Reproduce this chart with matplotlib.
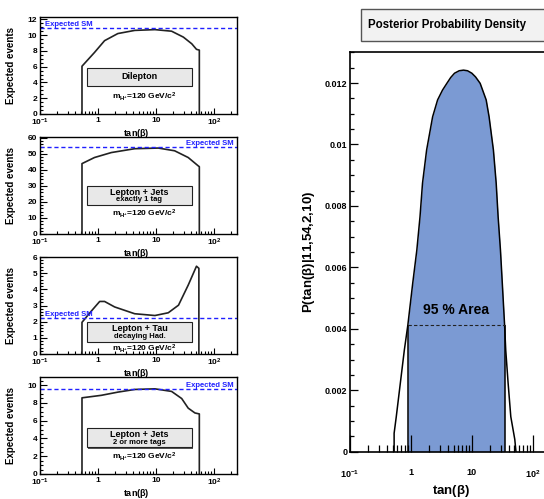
import matplotlib
matplotlib.use('Agg')
import matplotlib.pyplot as plt
from matplotlib.patches import Rectangle
from matplotlib.ticker import MultipleLocator, NullFormatter

plt.rcParams['font.family'] = ['Liberation Sans', 'DejaVu Sans']
plt.rcParams['font.weight'] = 'bold'
plt.rcParams['mathtext.fontset'] = 'custom'
plt.rcParams['mathtext.rm'] = 'Liberation Sans'
plt.rcParams['mathtext.bf'] = 'Liberation Sans:bold'
plt.rcParams['mathtext.default'] = 'bf'

# expected events vs tan(beta), one list pair per channel
dil_x = [0.53, 0.53, 0.87, 1.3, 2.2, 4.3, 9.6, 18.6, 29.7, 41.5, 50, 56, 56]
dil_y = [0, 6.06, 7.8, 9.3, 10.2, 10.6, 10.7, 10.5, 9.75, 8.9, 8.2, 8.1, 0]
lj1_x = [0.53, 0.53, 0.87, 1.7, 4.3, 11, 21, 36, 54, 56, 56]
lj1_y = [0, 43.9, 47.7, 50.8, 53.2, 53.6, 51.9, 47.7, 42.4, 42.0, 0]
tau_x = [0.53, 0.53, 0.77, 1.07, 1.3, 1.94, 4.3, 9.6, 16.3, 24.5, 36, 50, 55, 55]
tau_y = [0, 1.96, 2.66, 3.25, 3.25, 2.91, 2.49, 2.38, 2.55, 3.02, 4.26, 5.43, 5.3, 0]
lj2_x = [0.53, 0.53, 1.14, 2.2, 4.3, 9.6, 18.6, 27.8, 36, 47, 56, 56]
lj2_y = [0, 8.56, 8.84, 9.2, 9.5, 9.57, 9.28, 8.48, 7.4, 6.86, 6.75, 0]

sm_levels = [10.85, 54.4, 2.23, 9.57]
ymaxes = [12.3, 60.5, 6.0, 10.9]
ymajor = [2, 10, 1, 2]
yminor = [0.5, 2, 0.2, 0.5]
titles = [['Dilepton'], ['Lepton + Jets', 'exactly 1 tag'],
          ['Lepton + Tau', 'decaying Had.'], ['Lepton + Jets', '2 or more tags']]

# posterior density
post_x = [0.53, 0.53, 0.575, 0.67, 0.78, 0.89, 1.07, 1.25, 1.41, 1.55, 1.81, 2.27,
          2.74, 3.3, 3.89, 4.5, 5.2, 6.2, 7.3, 8.5, 10.0, 11.5, 13.7, 17.2, 19.2,
          22.6, 25.1, 27.0, 29.5, 32.0, 34.5, 36.0, 39.4, 43.6, 50.7, 53.0]
post_p = [0, 0.0006, 0.00114, 0.00223, 0.00331, 0.00412, 0.00548, 0.00656, 0.00765,
          0.00874, 0.00982, 0.0109, 0.01145, 0.01177, 0.01199, 0.01218, 0.01232,
          0.01240, 0.01242, 0.01240, 0.01232, 0.01220, 0.01199, 0.01145, 0.0109,
          0.00982, 0.00874, 0.00765, 0.00656, 0.0053, 0.00412, 0.00331, 0.00223,
          0.00114, 0.0004, 0.0]
hpd_lo, hpd_hi, hpd_level = 0.89, 34.5, 0.00412

xt = [0.1, 1, 10, 100]
xtl = [r'$10^{-1}$', '1', '10', r'$10^{2}$']
tb = r'tan($\mathrm{\beta}$)'

fig = plt.figure(figsize=(5.44, 4.99), dpi=100)
W, H = 544., 499.

series = [(dil_x, dil_y), (lj1_x, lj1_y), (tau_x, tau_y), (lj2_x, lj2_y)]
box_y = [(0.29, 0.474, 0.175), (0.30, 0.495, 0.206), (0.128, 0.33, 0.05), (0.275, 0.47, 0.18)]
for i, (xs, ys) in enumerate(series):
    top = 17 + 120 * i
    bot = 114 + 120 * i
    ax = fig.add_axes([40 / W, 1 - bot / H, 197 / W, (bot - top) / H])
    ax.plot(xs, ys, color='#222222', lw=1.2)
    ax.axhline(sm_levels[i], color='#2020ff', ls=(0, (3, 2)), lw=1)
    ax.set_xscale('log')
    ax.set_xlim(0.1, 250)
    ax.set_ylim(0, ymaxes[i])
    ax.set_xticks(xt)
    ax.set_xticklabels(xtl)
    ax.xaxis.set_minor_formatter(NullFormatter())
    ax.yaxis.set_major_locator(MultipleLocator(ymajor[i]))
    ax.yaxis.set_minor_locator(MultipleLocator(yminor[i]))
    ax.tick_params(which='both', direction='in', labelsize=6, pad=2, width=0.8)
    ax.tick_params(axis='y', which='major', length=5)
    ax.tick_params(axis='y', which='minor', length=2.5)
    ax.tick_params(axis='x', which='major', length=4)
    ax.tick_params(axis='x', which='minor', length=2)
    for s in ax.spines.values():
        s.set_linewidth(1)
    ax.set_ylabel('Expected events', fontsize=7, fontweight='bold')
    ax.yaxis.set_label_coords(-0.12, 0.5)
    ax.set_xlabel(tb, fontsize=6.5, fontweight='bold')
    ax.xaxis.set_label_coords(0.49, -0.135)
    if i in (0, 2):
        ax.annotate('Expected SM', xy=(0.025, sm_levels[i]), xycoords=('axes fraction', 'data'),
                    ha='left', va='bottom', color='#2020ff', fontsize=5.5, fontweight='bold')
    else:
        ax.annotate('Expected SM', xy=(0.985, sm_levels[i]), xycoords=('axes fraction', 'data'),
                    ha='right', va='bottom', color='#2020ff', fontsize=5.5, fontweight='bold')
    b0, b1, mh = box_y[i]
    ax.add_patch(Rectangle((0.245, b0 - 0.015), 0.53, b1 - b0, transform=ax.transAxes,
                           facecolor='#555555', edgecolor='none', zorder=3))
    ax.add_patch(Rectangle((0.24, b0), 0.53, b1 - b0, transform=ax.transAxes,
                           facecolor='#e8e8e8', edgecolor='#222222', lw=0.8, zorder=4))
    if len(titles[i]) == 1:
        ax.text(0.505, (b0 + b1) / 2, titles[i][0], transform=ax.transAxes, ha='center',
                va='center', fontsize=6.5, fontweight='bold', zorder=5)
    else:
        ax.text(0.505, b0 + 0.68 * (b1 - b0), titles[i][0], transform=ax.transAxes,
                ha='center', va='center', fontsize=6.5, fontweight='bold', zorder=5)
        ax.text(0.505, b0 + 0.27 * (b1 - b0), titles[i][1], transform=ax.transAxes,
                ha='center', va='center', fontsize=5.5, fontweight='bold', zorder=5)
    ax.text(0.53, mh, r'm$_{H^{+}}$=120 GeV/c$^{2}$', transform=ax.transAxes,
            ha='center', va='center', fontsize=6, fontweight='bold', zorder=5)

# right panel: posterior
axr = fig.add_axes([350 / W, 1 - 451.7 / H, 207 / W, 400 / H])
fx = [x for x in post_x if hpd_lo <= x <= hpd_hi]
fp = [p for x, p in zip(post_x, post_p) if hpd_lo <= x <= hpd_hi]
axr.fill_between(fx, 0, fp, color='#7b9ad3', lw=0)
axr.plot(post_x, post_p, color='black', lw=1.1)
axr.vlines([hpd_lo, hpd_hi], 0, hpd_level, color='black', lw=1.1)
axr.hlines(hpd_level, hpd_lo, hpd_hi, color='#222222', lw=0.8, linestyles=(0, (3, 2)))
axr.set_xscale('log')
axr.set_xlim(0.1, 250)
axr.set_ylim(0, 0.01302)
axr.set_xticks(xt)
axr.set_xticklabels(xtl)
axr.xaxis.set_minor_formatter(NullFormatter())
axr.yaxis.set_minor_locator(MultipleLocator(0.0005))
axr.set_yticks([0, 0.002, 0.004, 0.006, 0.008, 0.01, 0.012])
axr.set_yticklabels(['0', '0.002', '0.004', '0.006', '0.008', '0.01', '0.012'])
axr.tick_params(which='both', direction='in', labelsize=6.5, width=0.9)
axr.tick_params(axis='x', which='major', length=12, pad=12)
axr.tick_params(axis='x', which='minor', length=5)
axr.tick_params(axis='y', which='major', length=6, pad=2)
axr.tick_params(axis='y', which='minor', length=3)
for s in axr.spines.values():
    s.set_linewidth(1.2)
axr.set_ylabel(r'P(tan($\mathrm{\beta}$)|11,54,2,10)', fontsize=9.5, fontweight='bold')
axr.yaxis.set_label_coords(-0.16, 0.5)
axr.set_xlabel(tb, fontsize=9.5, fontweight='bold')
axr.xaxis.set_label_coords(0.49, -0.078)
axr.text(5.5, 0.0044, '95 % Area', ha='center', va='bottom', fontsize=10, fontweight='bold')

fig.patches.append(Rectangle((361 / W, 1 - 41 / H), 200 / W, 32 / H, transform=fig.transFigure,
                             facecolor='#f2f2f2', edgecolor='#555555', lw=1))
fig.text(368 / W, 1 - 25 / H, 'Posterior Probability Density', ha='left', va='center',
         fontsize=8.3, fontweight='bold')

fig.savefig('out.png', dpi=100)
